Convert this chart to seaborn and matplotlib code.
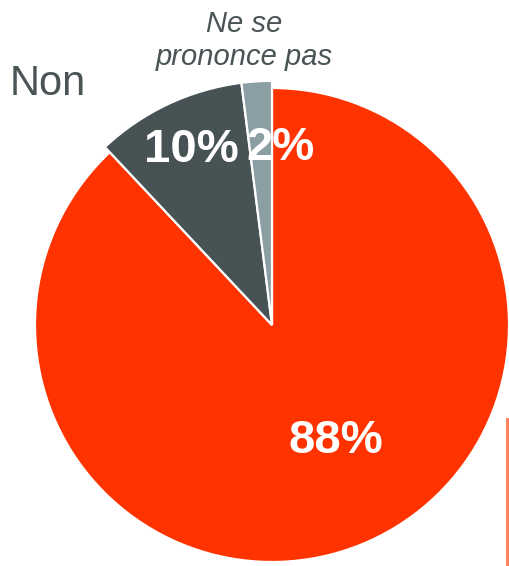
import matplotlib
matplotlib.use("Agg")
import matplotlib.pyplot as plt
import seaborn as sns
from matplotlib.patches import Rectangle

categories = ["Oui", "Non", "Ne se prononce pas"]
values = [88, 10, 2]
pct_labels = ["88%", "10%", "2%"]
colors = ["#FF3300", "#465254", "#8A9EA3"]

sns.set_theme(style="white")
plt.rcParams["font.family"] = ["Liberation Sans", "DejaVu Sans"]

W, H = 510, 566
fig = plt.figure(figsize=(W / 100, H / 100), dpi=100)
ax = fig.add_axes([0, 0, 1, 1])

R = 237.0
cx, cy = 272.0, 325.0

wedges, _ = ax.pie(values, colors=colors, startangle=90, counterclock=False,
                   radius=1.0,
                   wedgeprops=dict(edgecolor="white", linewidth=1.6))
for w in wedges[1:]:
    w.set_radius(1.03)

ax.set_xlim(-cx / R, (W - cx) / R)
ax.set_ylim(-(H - cy) / R, cy / R)
ax.set_aspect("equal")
ax.axis("off")

def fx(px):
    return px / W

def fy(py):
    return 1 - py / H

# percent labels
pos = [(336, 453), (191, 162), (281, 160)]
for lab, (px, py) in zip(pct_labels, pos):
    fig.text(fx(px), fy(py), lab, color="white", fontsize=34, fontweight="bold",
             ha="center", va="baseline")

# category labels
fig.text(fx(10), fy(95), "Non", color="#4A5355", fontsize=30, ha="left", va="baseline")
fig.text(fx(244), fy(32), "Ne se", color="#4A5355", fontsize=21, style="italic",
         ha="center", va="baseline")
fig.text(fx(244), fy(65), "prononce pas", color="#4A5355", fontsize=21, style="italic",
         ha="center", va="baseline")

# partial orange bar at right edge
fig.add_artist(Rectangle((fx(506), 0), 3 / W, (H - 418) / H,
                         transform=fig.transFigure, color="#FF8062", lw=0))

fig.savefig("out.png", dpi=100)
